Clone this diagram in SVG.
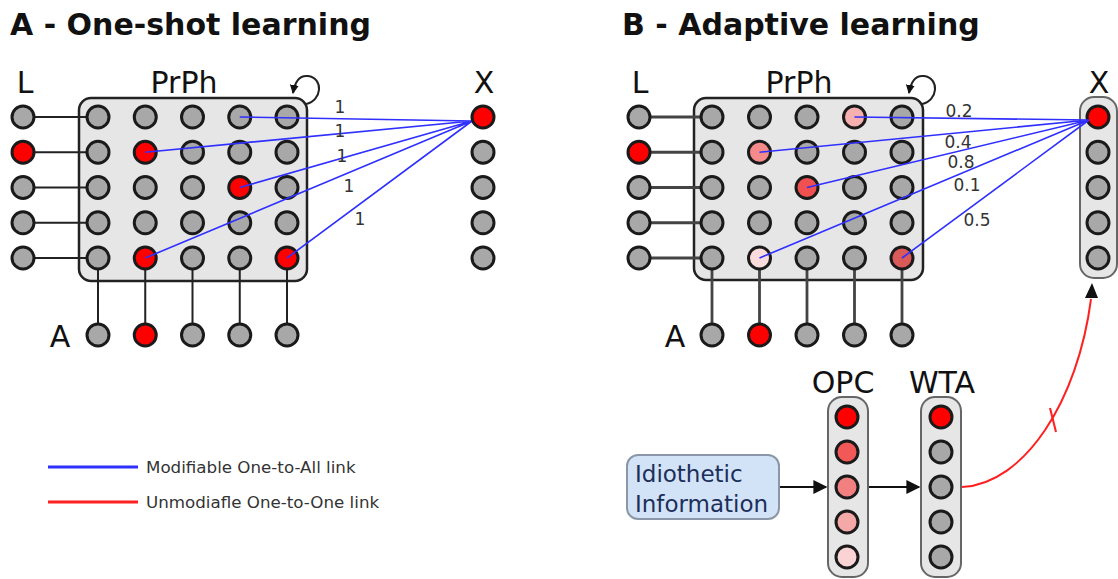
<svg xmlns="http://www.w3.org/2000/svg" width="1118" height="579" viewBox="0 0 1118 579">
<style>
.t{font-family:"DejaVu Sans","Liberation Sans",sans-serif;fill:#111}
.title{font-size:30px;font-weight:bold}
.lab{font-size:30px;text-anchor:middle}
.w{font-size:17px;fill:#333}
.leg{font-size:16.7px;fill:#333}
.n{stroke:#1a1a1a;stroke-width:3}
.g{fill:#a8a8a8}
.r{fill:#ff0000}
.box{fill:#e6e6e6;stroke:#222;stroke-width:2.5}
.pill{fill:#e6e6e6;stroke:#666;stroke-width:2}
.wire{stroke:#222;stroke-width:2;fill:none}
.wire2{stroke:#444;stroke-width:2.8;fill:none}
.blue{stroke:#2f2fff;stroke-width:1.6;fill:none}
.red{stroke:#ff2020;stroke-width:2;fill:none}
</style>
<defs>
<marker id="ah" viewBox="0 0 10 10" refX="9" refY="5" markerWidth="4.5" markerHeight="4.5" orient="auto" markerUnits="strokeWidth">
<path d="M0,0 L10,5 L0,10 z" fill="#111"/>
</marker>
<marker id="ah2" viewBox="0 0 10 10" refX="9" refY="5" markerWidth="7" markerHeight="7" orient="auto" markerUnits="strokeWidth">
<path d="M0,0 L10,5 L0,10 z" fill="#111"/>
</marker>
</defs>
<rect width="1118" height="579" fill="#fff"/>

<text class="t title" x="10" y="35">A - One-shot learning</text>
<text class="t title" x="622" y="35">B - Adaptive learning</text>

<!-- ===== Panel A ===== -->
<g id="A-labels">
<text class="t lab" x="25" y="93">L</text>
<text class="t lab" x="184" y="93">PrPh</text>
<text class="t lab" x="484" y="93">X</text>
<text class="t lab" x="60" y="347">A</text>
</g>
<g id="A-prph-box"><rect class="box" x="79" y="98" width="228" height="183" rx="12"/></g>
<g id="A-connectors">
<path class="wire" d="M23,117H98M23,152.25H98M23,187.5H98M23,222.75H98M23,258H98"/>
<path class="wire" d="M98,258V335M145.25,258V335M192.5,258V335M239.75,258V335M287,258V335"/>
<path class="wire" d="M306,104 C322,101 324,78 308,76 C300,75 295,81 293,93" marker-end="url(#ah)"/>
</g>
<g id="A-L">
<circle class="n g" cx="23" cy="117" r="11"/>
<circle class="n r" cx="23" cy="152.25" r="11"/>
<circle class="n g" cx="23" cy="187.5" r="11"/>
<circle class="n g" cx="23" cy="222.75" r="11"/>
<circle class="n g" cx="23" cy="258" r="11"/>
</g>
<g id="A-prph">
<circle class="n g" cx="98" cy="117" r="11"/><circle class="n g" cx="145.25" cy="117" r="11"/><circle class="n g" cx="192.5" cy="117" r="11"/><circle class="n g" cx="239.75" cy="117" r="11"/><circle class="n g" cx="287" cy="117" r="11"/>
<circle class="n g" cx="98" cy="152.25" r="11"/><circle class="n r" cx="145.25" cy="152.25" r="11"/><circle class="n g" cx="192.5" cy="152.25" r="11"/><circle class="n g" cx="239.75" cy="152.25" r="11"/><circle class="n g" cx="287" cy="152.25" r="11"/>
<circle class="n g" cx="98" cy="187.5" r="11"/><circle class="n g" cx="145.25" cy="187.5" r="11"/><circle class="n g" cx="192.5" cy="187.5" r="11"/><circle class="n r" cx="239.75" cy="187.5" r="11"/><circle class="n g" cx="287" cy="187.5" r="11"/>
<circle class="n g" cx="98" cy="222.75" r="11"/><circle class="n g" cx="145.25" cy="222.75" r="11"/><circle class="n g" cx="192.5" cy="222.75" r="11"/><circle class="n g" cx="239.75" cy="222.75" r="11"/><circle class="n g" cx="287" cy="222.75" r="11"/>
<circle class="n g" cx="98" cy="258" r="11"/><circle class="n r" cx="145.25" cy="258" r="11"/><circle class="n g" cx="192.5" cy="258" r="11"/><circle class="n g" cx="239.75" cy="258" r="11"/><circle class="n r" cx="287" cy="258" r="11"/>
</g>
<g id="A-A">
<circle class="n g" cx="98" cy="335" r="11"/><circle class="n r" cx="145.25" cy="335" r="11"/><circle class="n g" cx="192.5" cy="335" r="11"/><circle class="n g" cx="239.75" cy="335" r="11"/><circle class="n g" cx="287" cy="335" r="11"/>
</g>
<g id="A-links">
<path class="blue" d="M472,121L239.75,117M472,121L145.25,152.25M472,121L239.75,187.5M472,121L145.25,258M472,121L287,258"/>
<text class="t w" x="340" y="113" text-anchor="middle">1</text>
<text class="t w" x="340" y="137" text-anchor="middle">1</text>
<text class="t w" x="342" y="162" text-anchor="middle">1</text>
<text class="t w" x="349" y="192" text-anchor="middle">1</text>
<text class="t w" x="360" y="225" text-anchor="middle">1</text>
</g>
<g id="A-X">
<circle class="n r" cx="483" cy="117" r="11"/>
<circle class="n g" cx="483" cy="152.25" r="11"/>
<circle class="n g" cx="483" cy="187.5" r="11"/>
<circle class="n g" cx="483" cy="222.75" r="11"/>
<circle class="n g" cx="483" cy="258" r="11"/>
</g>
<g id="legend">
<line x1="48" y1="467" x2="138" y2="467" stroke="#2f2fff" stroke-width="3"/>
<text class="t leg" x="146" y="473">Modifiable One-to-All link</text>
<line x1="48" y1="502" x2="138" y2="502" stroke="#ff2020" stroke-width="3"/>
<text class="t leg" x="146" y="508">Unmodiafle One-to-One link</text>
</g>

<!-- ===== Panel B ===== -->
<g id="B-labels">
<text class="t lab" x="640" y="93">L</text>
<text class="t lab" x="799" y="93">PrPh</text>
<text class="t lab" x="1099" y="93">X</text>
<text class="t lab" x="675" y="347">A</text>
<text class="t lab" x="843" y="393">OPC</text>
<text class="t lab" x="942" y="393">WTA</text>
</g>
<g id="B-prph-box"><rect class="box" x="694" y="98" width="229" height="182" rx="12"/></g>
<g id="B-connectors">
<path class="wire2" d="M639,117H712M639,152.25H712M639,187.5H712M639,222.75H712M639,258H712"/>
<path class="wire2" d="M712,258V335M759.5,258V335M807,258V335M854.5,258V335M902,258V335"/>
<path class="wire" d="M922,104 C938,101 940,78 924,76 C916,75 911,81 909,93" marker-end="url(#ah)"/>
<path d="M779,487H826" stroke="#111" stroke-width="2" marker-end="url(#ah2)"/>
<path d="M868,487H919" stroke="#111" stroke-width="2" marker-end="url(#ah2)"/>
<path class="red" d="M962,487 C1025,484 1078,400 1091,299"/>
<path d="M1050,408 L1056,432" stroke="#ff2020" stroke-width="2"/>
<path d="M1092,283 L1098,298 L1085,298 z" fill="#111"/>
</g>
<g id="B-L">
<circle class="n g" cx="639" cy="117" r="11"/>
<circle class="n r" cx="639" cy="152.25" r="11"/>
<circle class="n g" cx="639" cy="187.5" r="11"/>
<circle class="n g" cx="639" cy="222.75" r="11"/>
<circle class="n g" cx="639" cy="258" r="11"/>
</g>
<g id="B-prph">
<circle class="n g" cx="712" cy="117" r="11"/><circle class="n g" cx="759.5" cy="117" r="11"/><circle class="n g" cx="807" cy="117" r="11"/><circle class="n" fill="#f7b0b0" cx="854.5" cy="117" r="11"/><circle class="n g" cx="902" cy="117" r="11"/>
<circle class="n g" cx="712" cy="152.25" r="11"/><circle class="n" fill="#f48a8a" cx="759.5" cy="152.25" r="11"/><circle class="n g" cx="807" cy="152.25" r="11"/><circle class="n g" cx="854.5" cy="152.25" r="11"/><circle class="n g" cx="902" cy="152.25" r="11"/>
<circle class="n g" cx="712" cy="187.5" r="11"/><circle class="n g" cx="759.5" cy="187.5" r="11"/><circle class="n" fill="#f05050" cx="807" cy="187.5" r="11"/><circle class="n g" cx="854.5" cy="187.5" r="11"/><circle class="n g" cx="902" cy="187.5" r="11"/>
<circle class="n g" cx="712" cy="222.75" r="11"/><circle class="n g" cx="759.5" cy="222.75" r="11"/><circle class="n g" cx="807" cy="222.75" r="11"/><circle class="n g" cx="854.5" cy="222.75" r="11"/><circle class="n g" cx="902" cy="222.75" r="11"/>
<circle class="n g" cx="712" cy="258" r="11"/><circle class="n" fill="#fbdcdc" cx="759.5" cy="258" r="11"/><circle class="n g" cx="807" cy="258" r="11"/><circle class="n g" cx="854.5" cy="258" r="11"/><circle class="n" fill="#d95a58" cx="902" cy="258" r="11"/>
</g>
<g id="B-A">
<circle class="n g" cx="712" cy="335" r="11"/><circle class="n r" cx="759.5" cy="335" r="11"/><circle class="n g" cx="807" cy="335" r="11"/><circle class="n g" cx="854.5" cy="335" r="11"/><circle class="n g" cx="902" cy="335" r="11"/>
</g>
<g id="B-X">
<rect class="pill" x="1080" y="97" width="37" height="181" rx="14"/>
<circle class="n r" cx="1098" cy="117" r="11"/>
<circle class="n g" cx="1098" cy="152.25" r="11"/>
<circle class="n g" cx="1098" cy="187.5" r="11"/>
<circle class="n g" cx="1098" cy="222.75" r="11"/>
<circle class="n g" cx="1098" cy="258" r="11"/>
</g>
<g id="B-links">
<path class="blue" d="M1089,120L854.5,117M1089,120L759.5,152.25M1089,120L807,187.5M1089,120L759.5,258M1089,120L902,258"/>
<text class="t w" x="959" y="117" text-anchor="middle" font-size="15">0.2</text>
<text class="t w" x="958" y="148" text-anchor="middle" font-size="15">0.4</text>
<text class="t w" x="961" y="168" text-anchor="middle" font-size="15">0.8</text>
<text class="t w" x="967" y="191" text-anchor="middle" font-size="15">0.1</text>
<text class="t w" x="977" y="226" text-anchor="middle" font-size="15">0.5</text>
</g>
<g id="OPC">
<rect class="pill" x="828" y="397" width="40" height="180" rx="14"/>
<circle class="n" fill="#ff0000" cx="847" cy="417" r="11"/>
<circle class="n" fill="#f25858" cx="847" cy="452" r="11"/>
<circle class="n" fill="#f28080" cx="847" cy="487" r="11"/>
<circle class="n" fill="#f5a8a8" cx="847" cy="522" r="11"/>
<circle class="n" fill="#fad4d4" cx="847" cy="557" r="11"/>
</g>
<g id="WTA">
<rect class="pill" x="921" y="397" width="40" height="180" rx="14"/>
<circle class="n r" cx="941" cy="417" r="11"/>
<circle class="n g" cx="941" cy="452" r="11"/>
<circle class="n g" cx="941" cy="487" r="11"/>
<circle class="n g" cx="941" cy="522" r="11"/>
<circle class="n g" cx="941" cy="557" r="11"/>
</g>
<g id="idiothetic">
<rect x="627" y="455" width="152" height="64" rx="11" fill="#d3e3f7" stroke="#8b97a8" stroke-width="2"/>
<text class="t" x="635" y="482" font-size="23" style="fill:#1c2f5a">Idiothetic</text>
<text class="t" x="635" y="512" font-size="23" style="fill:#1c2f5a">Information</text>
</g>
</svg>
